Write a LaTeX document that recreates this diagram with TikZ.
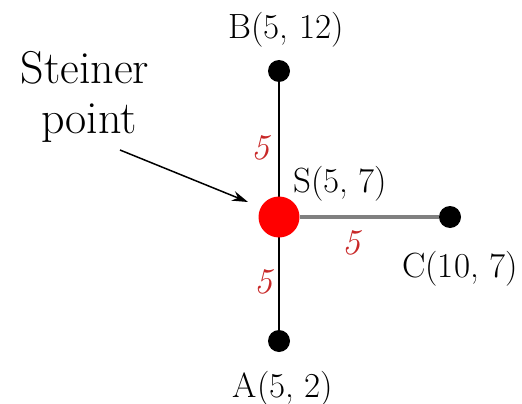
\documentclass[tikz,border=0pt]{standalone}
\usetikzlibrary{arrows.meta}
\begin{document}
\begin{tikzpicture}[x=1pt,y=-1pt,
  blackdot/.style={circle,fill=black,inner sep=0pt,minimum size=22pt},
  steinerdot/.style={circle,fill=red,inner sep=0pt,minimum size=41pt},
  coordlabel/.style={font=\fontsize{35}{40}\selectfont,inner sep=0pt},
  lenlabel/.style={font=\fontsize{36}{40}\selectfont\itshape,text={rgb,255:red,200;green,40;blue,40},inner sep=0pt},
  notelabel/.style={font=\fontsize{46}{50}\selectfont,inner sep=0pt,anchor=base},
  edgeblack/.style={draw=black,line width=2.5pt},
  edgegray/.style={draw={rgb,255:red,128;green,128;blue,128},line width=4pt}]
\useasboundingbox (0,0) rectangle (522,404);
% vertices
\node[blackdot] (B) at (279,71) {};
\node[blackdot] (A) at (279,341) {};
\node[blackdot] (C) at (450,217) {};
% edges
\draw[edgeblack] (B) -- (A);
\node[steinerdot] (S) at (279,217) {};
\draw[edgegray] (S) -- (C);
% labels
\node[coordlabel,anchor=base] (Blab) at (286,39) {B(5, 12)};
\node[coordlabel,anchor=base] (Alab) at (283,397) {A(5, 2)};
\node[coordlabel,anchor=base west] (Slab) at (293,192) {S(5, 7)};
\node[coordlabel,anchor=base west] (Clab) at (402,277) {C(10, 7)};
% edge lengths
\node[lenlabel] (l1) at (260,148) {5};
\node[lenlabel] (l2) at (351,243) {5};
\node[lenlabel] (l3) at (263,282) {5};
% steiner point annotation
\node[notelabel] (st1) at (85,83) {Steiner};
\node[notelabel] (st2) at (89,133) {point};
\coordinate (arrs) at (120,150);
\coordinate (arre) at (248,202);
\draw[line width=1.5pt,-{Stealth[length=16pt,width=10pt]}] (arrs) -- (arre);
\end{tikzpicture}
\end{document}
